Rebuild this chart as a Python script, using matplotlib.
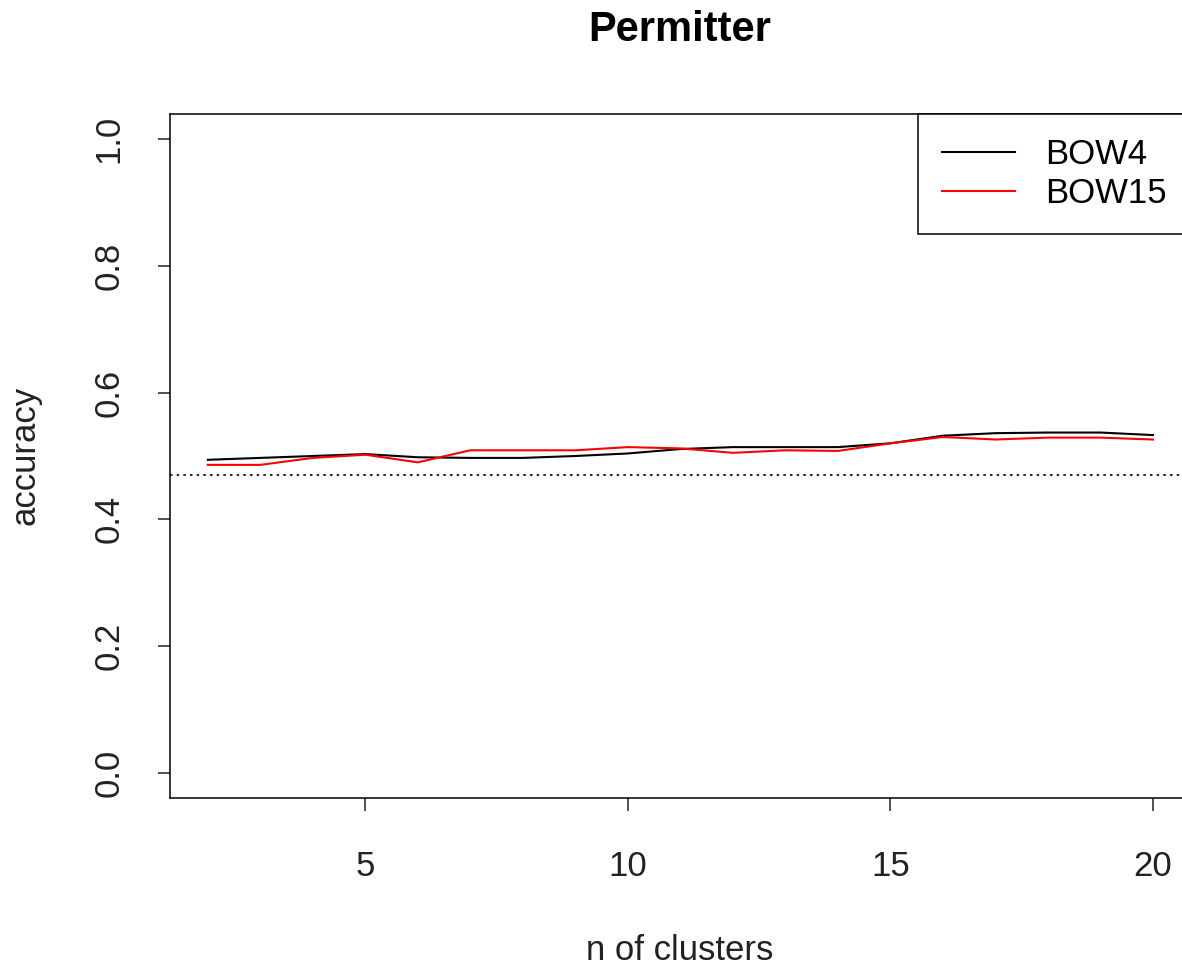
import matplotlib
matplotlib.use("Agg")
import matplotlib.pyplot as plt
import numpy as np

plt.rcParams['font.family'] = ['Liberation Sans', 'DejaVu Sans']

# accuracy vs number of clusters
n_clusters = np.arange(2, 21)
bow4 = [0.494, 0.497, 0.500, 0.503, 0.498, 0.497, 0.497, 0.500, 0.504, 0.511,
        0.514, 0.514, 0.514, 0.520, 0.532, 0.536, 0.537, 0.537, 0.533]
bow15 = [0.486, 0.486, 0.497, 0.502, 0.490, 0.509, 0.509, 0.509, 0.514, 0.512,
         0.505, 0.509, 0.508, 0.520, 0.530, 0.526, 0.529, 0.529, 0.526]
baseline = 0.47

fig = plt.figure(figsize=(11.82, 9.69), dpi=100)
ax = fig.add_axes([170/1182, 1-798.4/969, (1190.8-170)/1182, (798.4-113.6)/969])

ax.plot(n_clusters, bow4, color='black', lw=1.5, label='BOW4')
ax.plot(n_clusters, bow15, color='red', lw=1.5, label='BOW15')
ax.axhline(baseline, color='black', lw=1.2, ls=(0, (1.5, 2.5)))

ax.set_xlim(1.28, 20.72)
ax.set_ylim(-0.04, 1.04)
ax.set_xticks([5, 10, 15, 20])
ax.set_yticks([0.0, 0.2, 0.4, 0.6, 0.8, 1.0])
ax.set_yticklabels(['0.0', '0.2', '0.4', '0.6', '0.8', '1.0'], rotation=90, va='center')
ax.tick_params(direction='out', length=9, width=1.1, labelsize=25, colors='#222222')
ax.tick_params(axis='x', pad=28)
ax.tick_params(axis='y', pad=23)
for s in ax.spines.values():
    s.set_linewidth(1.1)

fig.text(680/1182, 1-30/969, 'Permitter', ha='center', va='center', fontsize=30, fontweight='bold')
fig.text(680/1182, 1-950/969, 'n of clusters', ha='center', va='center', fontsize=25, color='#222222')
fig.text(25/1182, 1-455/969, 'accuracy', ha='center', va='center', rotation=90, fontsize=25, color='#222222')

leg = ax.legend(loc='upper right', borderaxespad=0, fontsize=25, fancybox=False,
                edgecolor='black', handlelength=2.1, handletextpad=0.85,
                borderpad=0.7, labelspacing=0.18)
leg.get_frame().set_linewidth(1.1)
leg.get_frame().set_alpha(1)

fig.savefig('out.png', dpi=100)
